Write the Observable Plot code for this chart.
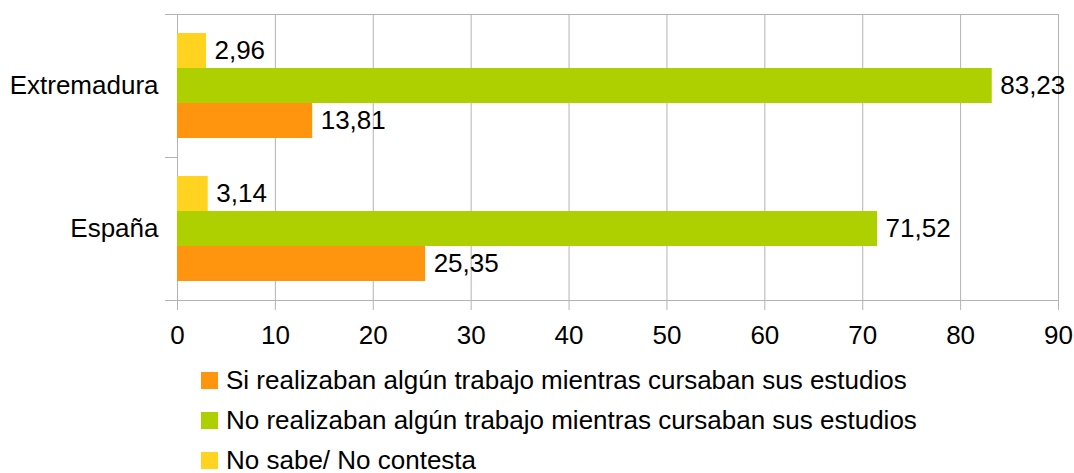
<!DOCTYPE html>
<html>
<head>
<meta charset="utf-8">
<script src="https://cdn.jsdelivr.net/npm/d3@7"></script>
<script src="https://cdn.jsdelivr.net/npm/@observablehq/plot@0.6"></script>
<style>
  html, body { margin: 0; padding: 0; background: #fff; }
  body { width: 1074px; height: 473px; overflow: hidden; font-family: "Liberation Sans", Arial, sans-serif; }
  #legend { padding-top: 5px; }
  .row { height: 40px; display: flex; align-items: center; font-size: 26px; color: #000; }
  .sw { width: 17px; height: 17px; margin-left: 201px; margin-right: 8px; }
</style>
</head>
<body>
<div id="chart"></div>
<div id="legend"></div>
<script>
const regions = ["Extremadura", "España"];
const series = [
  "Si realizaban algún trabajo mientras cursaban sus estudios",
  "No realizaban algún trabajo mientras cursaban sus estudios",
  "No sabe/ No contesta"
];
const colors = ["#ff950e", "#aecf00", "#ffd320"];
const siValues = [13.81, 25.35];
const noValues = [83.23, 71.52];
const nsValues = [2.96, 3.14];
const xTicks = [0, 10, 20, 30, 40, 50, 60, 70, 80, 90];

const seriesValues = [siValues, noValues, nsValues];
const data = [];
regions.forEach((r, i) => {
  series.forEach((s, j) => data.push({region: r, series: s, value: seriesValues[j][i]}));
});
const fmt = v => v.toFixed(2).replace(".", ",");

const W = 1074, ML = 177, MR = 16;
const grid = "#b3b3b3";

const chart = Plot.plot({
  width: W,
  height: 355,
  marginLeft: ML,
  marginRight: MR,
  marginTop: 14,
  marginBottom: 55,
  style: {fontFamily: "'Liberation Sans', Arial, sans-serif", color: "#000", background: "#fff", overflow: "visible"},
  x: {domain: [0, 90], axis: null},
  y: {domain: [...series].reverse(), paddingInner: 0, paddingOuter: 0.5, axis: null},
  fy: {domain: regions, padding: 0, axis: null},
  color: {domain: series, range: colors},
  marks: [
    Plot.gridX(xTicks, {stroke: grid, strokeOpacity: 1}),
    Plot.frame({anchor: "left", stroke: grid}),
    Plot.frame({anchor: "top", facetAnchor: "top", stroke: grid, insetLeft: -12}),
    Plot.frame({anchor: "top", stroke: grid, insetLeft: -12, insetRight: W - ML - MR}),
    Plot.frame({anchor: "bottom", facetAnchor: "bottom", stroke: grid, insetLeft: -12}),
    Plot.barX(data, {x: "value", y: "series", fy: "region", fill: "series"}),
    Plot.text(data, {x: "value", y: "series", fy: "region", text: d => fmt(d.value), textAnchor: "start", dx: 8, fontSize: 26, fill: "#000"}),
    Plot.axisX(xTicks, {tickSize: 10, tickPadding: 15, stroke: grid, fill: "#000", fontSize: 26, label: null, tickFormat: d => String(d)}),
    Plot.axisFy({anchor: "left", tickSize: 0, tickPadding: 19, fontSize: 26, label: null, fill: "#000"})
  ]
});
document.getElementById("chart").appendChild(chart);

const legend = document.getElementById("legend");
series.forEach((s, j) => {
  const row = document.createElement("div");
  row.className = "row";
  const sw = document.createElement("span");
  sw.className = "sw";
  sw.style.background = colors[j];
  const t = document.createElement("span");
  t.textContent = s;
  row.appendChild(sw);
  row.appendChild(t);
  legend.appendChild(row);
});
</script>
</body>
</html>
